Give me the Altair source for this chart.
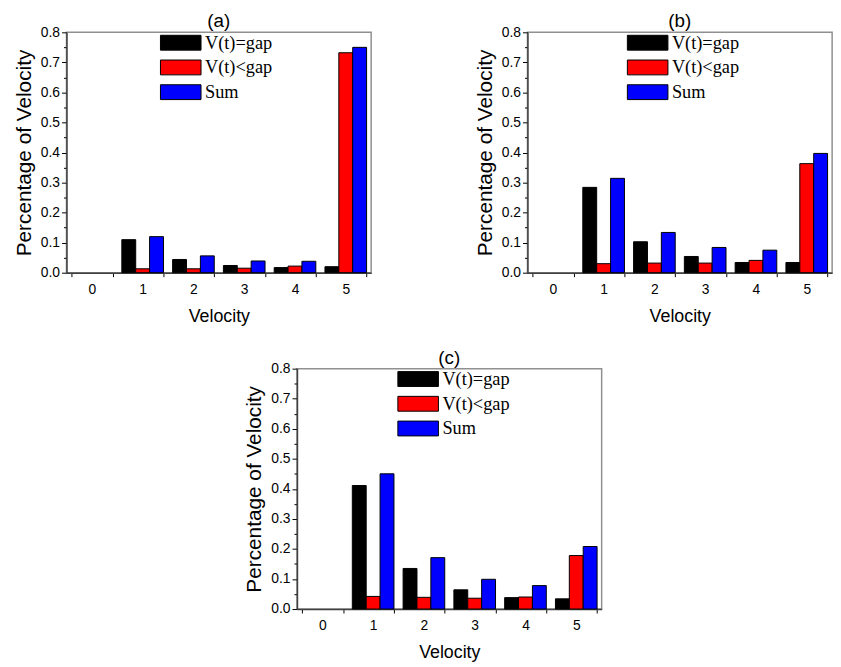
import altair as alt
import pandas as pd

# ---------------- data ----------------
velocity_domain = ["0", "1", "2", "3", "4", "5"]
velocity = ["1", "2", "3", "4", "5"]
series = ["V(t)=gap", "V(t)<gap", "Sum"]
colors = ["#000000", "#FF0000", "#0000FF"]

a_gap = [0.110, 0.044, 0.024, 0.017, 0.020]
a_less = [0.013, 0.013, 0.015, 0.022, 0.732]
a_sum = [0.120, 0.056, 0.039, 0.038, 0.750]

b_gap = [0.284, 0.103, 0.054, 0.034, 0.034]
b_less = [0.030, 0.032, 0.032, 0.041, 0.363]
b_sum = [0.314, 0.134, 0.084, 0.075, 0.397]

c_gap = [0.411, 0.135, 0.064, 0.038, 0.034]
c_less = [0.042, 0.039, 0.036, 0.040, 0.178]
c_sum = [0.450, 0.171, 0.099, 0.078, 0.208]

y_tick_values = [round(i * 0.05, 2) for i in range(17)]

SANS = "Liberation Sans"
SERIF = "Liberation Serif"


def make_df(gap, less, total):
    rows = []
    for v, g, l, s in zip(velocity, gap, less, total):
        rows.append({"Velocity": v, "series": series[0], "value": g})
        rows.append({"Velocity": v, "series": series[1], "value": l})
        rows.append({"Velocity": v, "series": series[2], "value": s})
    return pd.DataFrame(rows)


def panel(label, gap, less, total, legend_x, legend_y):
    df = make_df(gap, less, total)
    major = "round(datum.value*100) % 10 == 0"
    return (
        alt.Chart(df)
        .mark_bar(stroke="black", strokeWidth=1)
        .encode(
            x=alt.X(
                "Velocity:O",
                scale=alt.Scale(domain=velocity_domain, paddingInner=0.18, paddingOuter=0.09),
                axis=alt.Axis(
                    title="Velocity",
                    labelAngle=0,
                    tickBand="extent",
                    tickSize=4,
                    tickColor="#000000",
                    domainColor="#404040",
                    domainWidth=1.5,
                    labelFont=SANS,
                    labelFontSize=14,
                    labelColor="#000000",
                    labelPadding=6,
                    titleFont=SANS,
                    titleFontSize=18,
                    titleFontWeight="normal",
                    titleColor="#000000",
                    titlePadding=11,
                ),
            ),
            xOffset=alt.XOffset("series:N", sort=series, scale=alt.Scale(domain=series)),
            y=alt.Y(
                "value:Q",
                scale=alt.Scale(domain=[0, 0.8], nice=False),
                axis=alt.Axis(
                    title="Percentage of Velocity",
                    values=y_tick_values,
                    labelExpr=f"{major} ? format(datum.value, '.1f') : ''",
                    tickSize={"condition": {"test": major, "value": 5}, "value": 3},
                    tickColor="#000000",
                    domainColor="#404040",
                    domainWidth=1.5,
                    grid=False,
                    labelFont=SANS,
                    labelFontSize=14,
                    labelColor="#000000",
                    labelPadding=2,
                    titleFont=SANS,
                    titleFontSize=21,
                    titleFontWeight="normal",
                    titleColor="#000000",
                    titlePadding=6,
                ),
            ),
            color=alt.Color(
                "series:N",
                sort=series,
                scale=alt.Scale(domain=series, range=colors),
                legend=alt.Legend(
                    title=None,
                    orient="none",
                    legendX=legend_x,
                    legendY=legend_y,
                    padding=0,
                    symbolType="M-2.05,-0.75H2.05V0.75H-2.05Z",
                    symbolSize=400,
                    symbolStrokeColor="#000000",
                    symbolStrokeWidth=1,
                    symbolOpacity=1,
                    labelFont=SERIF,
                    labelFontSize=18.5,
                    labelColor="#000000",
                    labelOffset=14,
                    rowPadding=5,
                ),
            ),
        )
        .properties(
            width=308,
            height=243,
            title=alt.TitleParams(
                label, font=SANS, fontSize=19, fontWeight="normal", color="#000000", offset=-6
            ),
        )
    )


pa = panel("(a)", a_gap, a_less, a_sum, 105, 0)
pb = panel("(b)", b_gap, b_less, b_sum, 111, 0)
pc = panel("(c)", c_gap, c_less, c_sum, 112, 0)

top = alt.hconcat(pa, pb, spacing=102).resolve_legend(color="independent")
chart = (
    alt.vconcat(top, pc, spacing=22, center=True)
    .resolve_legend(color="independent")
    .properties(padding={"left": 4, "top": 0, "right": 0, "bottom": 0})
    .configure_view(stroke="#909090", strokeWidth=1.5)
)

chart.save("out.html", embed_options={"renderer": "svg", "actions": False})
